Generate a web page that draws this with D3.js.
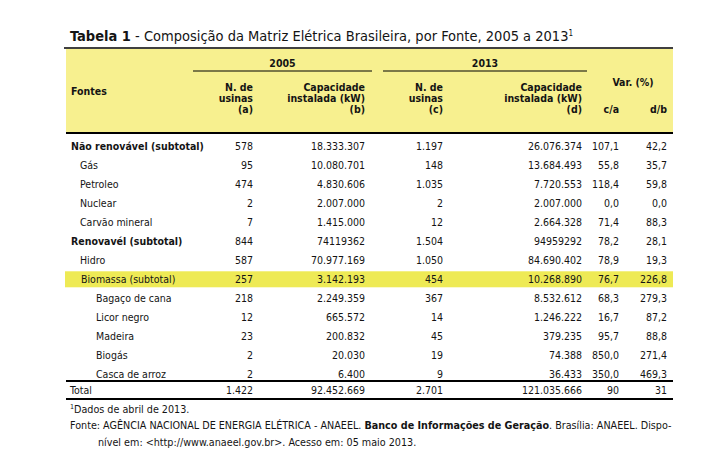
<!DOCTYPE html>
<html><head><meta charset="utf-8">
<script src="https://cdn.jsdelivr.net/npm/d3@7/dist/d3.min.js"></script>
<style>
html,body{margin:0;padding:0;background:#fff;}
svg text{font-family:"DejaVu Sans Condensed","DejaVu Sans",sans-serif;fill:#141414;}
</style></head>
<body><svg id="c" width="719" height="473"></svg>
<script>
// ---- data ----
const fontes = ["Não renovável (subtotal)","Gás","Petroleo","Nuclear","Carvão mineral","Renovavél (subtotal)","Hidro","Biomassa (subtotal)","Bagaço de cana","Licor negro","Madeira","Biogás","Casca de arroz"];
const niveis = [0,1,1,1,1,0,1,1,2,2,2,2,2];
const usinas2005 = ["578","95","474","2","7","844","587","257","218","12","23","2","2"];
const capacidade2005 = ["18.333.307","10.080.701","4.830.606","2.007.000","1.415.000","74119362","70.977.169","3.142.193","2.249.359","665.572","200.832","20.030","6.400"];
const usinas2013 = ["1.197","148","1.035","2","12","1.504","1.050","454","367","14","45","19","9"];
const capacidade2013 = ["26.076.374","13.684.493","7.720.553","2.007.000","2.664.328","94959292","84.690.402","10.268.890","8.532.612","1.246.222","379.235","74.388","36.433"];
const varCA = ["107,1","55,8","118,4","0,0","71,4","78,2","78,9","76,7","68,3","16,7","95,7","850,0","350,0"];
const varDB = ["42,2","35,7","59,8","0,0","88,3","28,1","19,3","226,8","279,3","87,2","88,8","271,4","469,3"];
const destaque = "Biomassa (subtotal)";
const total = ["Total","1.422","92.452.669","2.701","121.035.666","90","31"];
const colunas = ["c1","c2","c3","c4","c5","c6"];
const cabecalhos = [["N. de","usinas","(a)"],["Capacidade","instalada (kW)","(b)"],["N. de","usinas","(c)"],["Capacidade","instalada (kW)","(d)"],["c/a"],["d/b"]];
const anos = ["2005","2013"];

// ---- layout ----
const svg = d3.select("#c");
const L = 66, R = 673;
const fs = 10.5;
const x = d3.scaleOrdinal().domain(colunas).range([253,365,443,582,619,667]);
const y = d3.scaleBand().domain(fontes).range([136.5,384]).paddingInner(0);
const indent = d3.scaleOrdinal().domain([0,1,2]).range([71,80,96]);

// title
const t = svg.append("text").attr("x",70).attr("y",41).style("font-size","14.5px");
t.append("tspan").attr("font-weight","bold").text("Tabela 1");
t.append("tspan").text(" - Composição da Matriz Elétrica Brasileira, por Fonte, 2005 a 2013");
t.append("tspan").attr("dy",-5).style("font-size","8px").text("1");
svg.append("line").attr("x1",64).attr("x2",R).attr("y1",48).attr("y2",48).attr("stroke","#000").attr("stroke-width",1.3);

// header band
svg.append("rect").attr("x",L).attr("y",49).attr("width",R-L).attr("height",83).attr("fill","#f7f08f");
svg.append("line").attr("x1",L).attr("x2",R).attr("y1",133).attr("y2",133).attr("stroke","#000").attr("stroke-width",2.2);

const hdr = svg.append("g").style("font-size",fs+"px").attr("font-weight","bold");
hdr.append("text").attr("x",71).attr("y",95).text("Fontes");
const grp = [[193,372],[383,587]];
anos.forEach((a,i)=>{
  hdr.append("text").attr("x",(grp[i][0]+grp[i][1])/2).attr("y",67).attr("text-anchor","middle").text(a);
  svg.append("line").attr("x1",grp[i][0]).attr("x2",grp[i][1]).attr("y1",71).attr("y2",71).attr("stroke","#000").attr("stroke-width",1);
});
hdr.append("text").attr("x",633).attr("y",86).attr("text-anchor","middle").text("Var. (%)");
cabecalhos.forEach((lines,i)=>{
  const n = lines.length;
  lines.forEach((s,j)=>{
    hdr.append("text").attr("x",x(colunas[i])).attr("y",113-(n-1-j)*11).attr("text-anchor","end").text(s);
  });
});

// highlight
const bh = y.bandwidth();
svg.append("rect").attr("x",L-1).attr("y",y(destaque)+bh/2-8).attr("width",R-L+1).attr("height",16).attr("fill","#eeea55");

// rows
const rows = svg.append("g").style("font-size",fs+"px");
const vals = [usinas2005,capacidade2005,usinas2013,capacidade2013,varCA,varDB];
fontes.forEach((f,i)=>{
  const yb = y(f)+bh/2+4;
  const bold = niveis[i]===0;
  rows.append("text").attr("x",indent(niveis[i])+(f===destaque?1:0)).attr("y",yb).attr("font-weight",bold?"bold":"normal").text(f);
  vals.forEach((arr,k)=>{
    rows.append("text").attr("x",x(colunas[k])).attr("y",yb).attr("text-anchor","end").text(arr[i]);
  });
});

// total
svg.append("line").attr("x1",L).attr("x2",R).attr("y1",381).attr("y2",381).attr("stroke","#000").attr("stroke-width",2.2);
rows.append("text").attr("x",70).attr("y",394).text(total[0]);
total.slice(1).forEach((v,k)=>{
  rows.append("text").attr("x",x(colunas[k])).attr("y",394).attr("text-anchor","end").text(v);
});
svg.append("line").attr("x1",L).attr("x2",R).attr("y1",399).attr("y2",399).attr("stroke","#000").attr("stroke-width",1.8);

// footnotes
const fn = svg.append("g").style("font-size","10.7px");
const n1 = fn.append("text").attr("x",70).attr("y",413);
n1.append("tspan").attr("dy",-4).style("font-size","7px").text("1");
n1.append("tspan").attr("dy",4).text("Dados de abril de 2013.");
const f2 = fn.append("text").attr("x",70).attr("y",429);
f2.append("tspan").text("Fonte: AGÊNCIA NACIONAL DE ENERGIA ELÉTRICA - ANAEEL. ");
f2.append("tspan").attr("font-weight","bold").text("Banco de Informações de Geração");
f2.append("tspan").text(". Brasília: ANAEEL. Dispo-");
fn.append("text").attr("x",98).attr("y",446).text("nível em: <http://www.anaeel.gov.br>. Acesso em: 05 maio 2013.");
</script></body></html>
